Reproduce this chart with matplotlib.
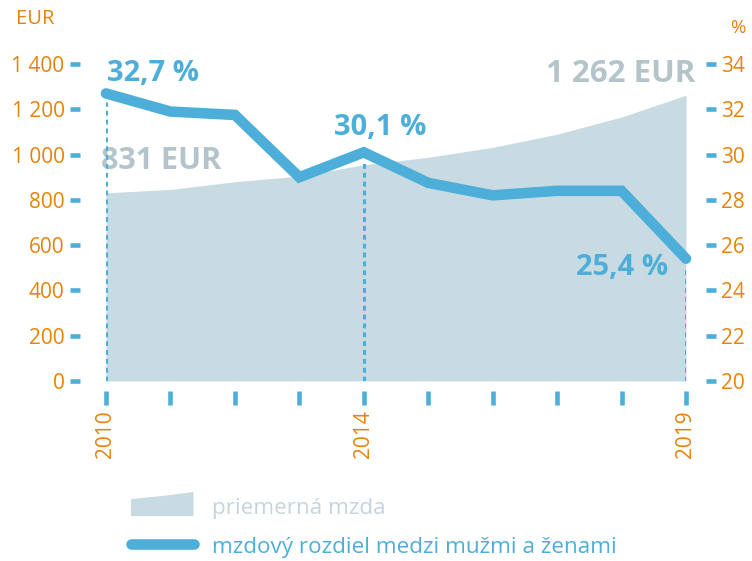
import matplotlib.pyplot as plt
from matplotlib.lines import Line2D
from matplotlib.patches import Patch, Polygon
from matplotlib.legend_handler import HandlerPatch

# data
years = [2010, 2011, 2012, 2013, 2014, 2015, 2016, 2017, 2018, 2019]
mzda = [831, 846, 880, 905, 955, 988, 1032, 1090, 1166, 1262]
rozdiel = [32.7, 31.9, 31.75, 29.0, 30.1, 28.75, 28.2, 28.4, 28.4, 25.4]
eur_ticks = [0, 200, 400, 600, 800, 1000, 1200, 1400]
eur_labels = ['0', '200', '400', '600', '800', '1 000', '1 200', '1 400']
pct_ticks = [20, 22, 24, 26, 28, 30, 32, 34]
year_labels = ['2010', '', '', '', '2014', '', '', '', '', '2019']

orange = '#E8820C'
blue = '#4DAFD9'
area_c = '#C9DBE2'
gray = '#B3C4CA'

plt.rcParams['font.family'] = ['Open Sans', 'DejaVu Sans']


def area_handle(legend, orig_handle, xdescent, ydescent, width, height, fontsize):
    # small rising area shape like in the original legend
    x0, y0 = -xdescent, -ydescent
    return Polygon([[x0, y0], [x0 + width, y0], [x0 + width, y0 + height * 1.2],
                    [x0 + width * 0.5, y0 + height * 1.0], [x0, y0 + height * 0.85]],
                   closed=True)


fig = plt.figure(figsize=(7.52, 5.61), dpi=100)
ax = fig.add_axes([106/752, (561-381)/561, 580/752, 317/561])
ax2 = ax.twinx()

ax.fill_between(years, mzda, 0, color=area_c, lw=0)
ax.set_xlim(2010, 2019)
ax.set_ylim(0, 1400)
ax2.set_ylim(20, 34)

# dotted guides
for i in [0, 4, 9]:
    ax2.vlines(years[i], 20, rozdiel[i] - 0.4, colors=blue, lw=2.2,
               linestyles=(0, (1.6, 1.3)))

ax2.plot(years, rozdiel, color=blue, lw=7.6, solid_capstyle='round',
         solid_joinstyle='miter', clip_on=False, zorder=5)

for a in [ax, ax2]:
    for s in a.spines.values():
        s.set_visible(False)

# outward offsets are in points
ax.spines['left'].set_position(('outward', 22.3))
ax2.spines['right'].set_position(('outward', 18))
ax.spines['bottom'].set_position(('outward', 12.2))

ax.set_yticks(eur_ticks)
ax.set_yticklabels(eur_labels)
ax2.set_yticks(pct_ticks)
ax.set_xticks(years)
ax.set_xticklabels(year_labels, rotation=90)

ax.tick_params(axis='y', direction='inout', length=7, width=3.3, color=blue,
               labelcolor=orange, labelsize=15, pad=4)
ax2.tick_params(axis='y', direction='inout', length=7, width=3.3, color=blue,
                labelcolor=orange, labelsize=15, pad=4)
ax.tick_params(axis='x', direction='inout', length=9.4, width=3.3, color=blue,
               labelcolor=orange, labelsize=15, pad=4)

fig.text(16/752, 1 - 19/561, 'EUR', color=orange, fontsize=14.5, va='center')
fig.text(738/752, 1 - 28/561, '%', color=orange, fontsize=13.5, va='center', ha='center')

# value labels
ax2.text(2010.02, 33.6, '32,7 %', color=blue, fontsize=21, fontweight='bold',
         va='center', ha='left')
ax2.text(2014.25, 31.2, '30,1 %', color=blue, fontsize=21, fontweight='bold',
         va='center', ha='center')
ax2.text(2018.72, 25.0, '25,4 %', color=blue, fontsize=21, fontweight='bold',
         va='center', ha='right')
ax.text(2009.92, 970, '831 EUR', color=gray, fontsize=22, fontweight='bold',
        va='center', ha='left',
        bbox=dict(facecolor='white', edgecolor='none', pad=3))
ax.text(2019.15, 1355, '1 262 EUR', color=gray, fontsize=22.5, fontweight='bold',
        va='center', ha='right')

handles = [Patch(facecolor=area_c, edgecolor='none'),
           Line2D([0], [0], color=blue, lw=7.6, solid_capstyle='round')]
leg = fig.legend(handles, ['priemerná mzda', 'mzdový rozdiel medzi mužmi a ženami'],
                 loc='upper left', bbox_to_anchor=(131/752, 1 - 496/561),
                 frameon=False, fontsize=16.2, handlelength=2.78, handleheight=1.0,
                 handletextpad=0.8, labelspacing=0.72, borderpad=0, borderaxespad=0,
                 handler_map={Patch: HandlerPatch(patch_func=area_handle)})
leg.get_texts()[0].set_color('#C6D5DB')
leg.get_texts()[1].set_color(blue)

fig.savefig('out.png', dpi=100)
